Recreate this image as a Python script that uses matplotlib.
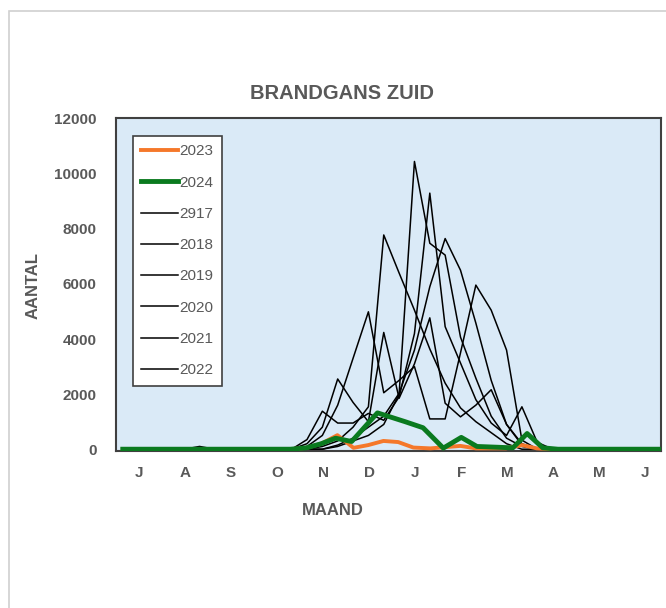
import numpy as np
import matplotlib.pyplot as plt
from matplotlib.patches import Rectangle

# Month labels (season July - June)
maanden = ['J', 'A', 'S', 'O', 'N', 'D', 'J', 'F', 'M', 'A', 'M', 'J']

# Black seasons: counts per decade (3 per month, starting early July)
y2917 = [0, 0, 0, 0, 0, 0, 0, 0, 0, 0, 0, 0, 350, 1380, 950, 950, 1300, 1050,
         1900, 4200, 9300, 4450, 3130, 1800, 950, 500, 1540, 250, 0, 0, 0, 0, 0, 0, 0, 0]
y2018 = [0, 0, 0, 0, 0, 0, 0, 0, 0, 0, 0, 0, 200, 800, 2550, 1700, 1000, 4240,
         1850, 3100, 4770, 1670, 1175, 1600, 2160, 900, 200, 0, 0, 0, 0, 0, 0, 0, 0, 0]
y2019 = [0, 0, 0, 0, 0, 0, 0, 0, 0, 0, 0, 0, 100, 500, 1600, 3300, 4990, 2050,
         2500, 3000, 1100, 1100, 3500, 5960, 5050, 3600, 330, 0, 0, 0, 0, 0, 0, 0, 0, 0]
y2020 = [0, 0, 0, 0, 0, 0, 0, 0, 0, 0, 0, 0, 0, 100, 300, 800, 1540, 7780,
         6400, 5050, 3640, 2400, 1500, 1000, 600, 200, 0, 0, 0, 0, 0, 0, 0, 0, 0, 0]
y2021 = [0, 0, 0, 0, 0, 0, 0, 0, 0, 0, 0, 0, 0, 0, 100, 300, 500, 900,
         2000, 10450, 7480, 7050, 4070, 2580, 1200, 400, 100, 0, 0, 0, 0, 0, 0, 0, 0, 0]
y2022 = [0, 0, 0, 0, 0, 100, 0, 0, 0, 0, 0, 0, 0, 0, 150, 400, 800, 1200,
         2030, 3600, 5900, 7650, 6500, 4580, 2500, 900, 150, 0, 0, 0, 0, 0, 0, 0, 0, 0]

# 2023 and 2024: counting dates (months since 1 July) and counts
x2023 = [0.15, 3.79, 4.14, 4.46, 4.81, 5.16, 5.48, 5.81, 6.13, 6.46, 6.83, 7.48,
         7.82, 8.47, 8.82, 9.14, 9.47, 11.81]
y2023 = [0, 0, 50, 200, 510, 50, 150, 300, 260, 60, 30, 120, 30, 30, 150, 30, 0, 0]
x2024 = [0.15, 3.79, 4.14, 4.46, 4.77, 5.12, 5.68, 6.28, 6.67,
         7.11, 7.50, 7.84, 8.62, 8.93, 9.27, 9.60, 11.81]
y2024 = [0, 0, 50, 200, 400, 280, 1320, 1000, 780, 40, 430, 100, 50,
         570, 50, 0, 0]

x_dec = np.arange(36) / 3 + 0.15
grijs = '#595959'

fig = plt.figure(figsize=(6.66, 6.08), dpi=100)
fig.patches.append(Rectangle((9 / 666, -0.1), 1.2, 1 - 11 / 608 + 0.1, transform=fig.transFigure,
                             fill=False, edgecolor='#d0d0d0', linewidth=1.2))

ax = fig.add_axes([0.174, 0.258, 0.818, 0.548])
ax.set_facecolor('#DAEAF7')

ax.axhline(-55, color='#c8c8c8', linewidth=2, zorder=1)
l23, = ax.plot(x2023, y2023, color='#F5782A', linewidth=2.8, zorder=4, label='2023')
l24, = ax.plot(x2024, y2024, color='#0A7A1F', linewidth=3.5, zorder=5, label='2024')
zwart = []
for naam, ys in [('2917', y2917), ('2018', y2018), ('2019', y2019),
                 ('2020', y2020), ('2021', y2021), ('2022', y2022)]:
    l, = ax.plot(x_dec, ys, color='black', linewidth=1.1, zorder=3, label=naam)
    zwart.append(l)

ax.set_xlim(0.0, 11.83)
ax.set_ylim(-70, 12030)
ax.set_xticks(np.arange(12) + 0.5)
ax.set_xticklabels(maanden)
ax.set_yticks(range(0, 12001, 2000))
ax.tick_params(axis='both', length=0, labelsize=11, labelcolor=grijs)
ax.tick_params(axis='y', pad=14)
ax.tick_params(axis='x', pad=11)
for t in ax.get_xticklabels() + ax.get_yticklabels():
    t.set_fontfamily('Liberation Sans')
    t.set_fontweight('bold')
for s in ax.spines.values():
    s.set_color('#404040')
    s.set_linewidth(1.5)

fig.text(0.514, 0.847, 'BRANDGANS ZUID', ha='center', va='center', fontsize=14.5,
         fontweight='bold', color=grijs, family='Liberation Sans')
fig.text(0.5, 0.161, 'MAAND', ha='center', va='center', fontsize=12,
         fontweight='bold', color=grijs, family='Liberation Sans')
fig.text(0.05, 0.531, 'AANTAL', ha='center', va='center', fontsize=12, rotation=90,
         fontweight='bold', color=grijs, family='Liberation Sans')

leg = ax.legend(handles=[l23, l24] + zwart, loc='upper left',
                bbox_to_anchor=(133 / 666, 1 - 136 / 608), bbox_transform=fig.transFigure,
                borderaxespad=0, fancybox=False, framealpha=1, edgecolor='#404040',
                handlelength=2.4, handletextpad=0.1, labelspacing=1.13, borderpad=0.55,
                prop={'family': 'Liberation Sans', 'size': 11})
leg.get_frame().set_linewidth(1.2)
for t in leg.get_texts():
    t.set_color(grijs)

plt.savefig('out.png', dpi=100)
